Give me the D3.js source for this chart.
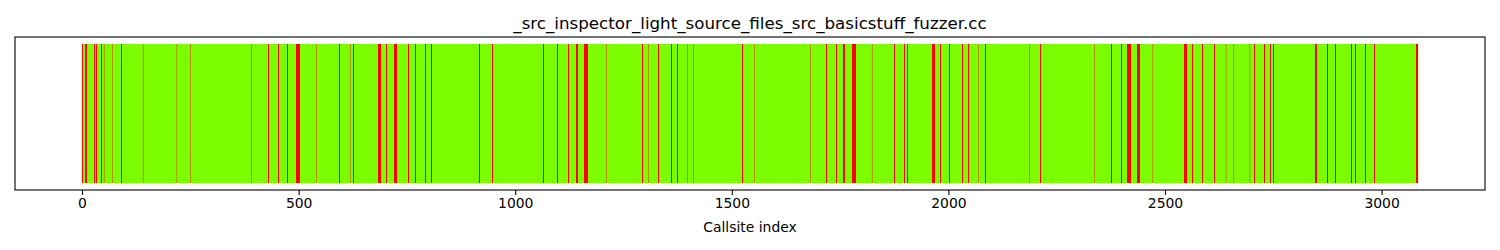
<!DOCTYPE html>
<html>
<head>
<meta charset="utf-8">
<script src="https://cdn.jsdelivr.net/npm/d3@7"></script>
<style>
  body { margin: 0; background: #fff; }
  svg text { font-family: "DejaVu Sans", sans-serif; fill: #000; }
</style>
</head>
<body>
<div id="chart"></div>
<script>
var title = '_src_inspector_light_source_files_src_basicstuff_fuzzer.cc';
var x_label = 'Callsite index';
var n_callsites = 3085;
var x_ticks = [0, 500, 1000, 1500, 2000, 2500, 3000];

// callsite index ranges (inclusive) drawn in red, the rest is green
var red_ranges = [
    [0, 1], [8, 12], [28, 29], [32, 33], [44, 45], [51, 51], [70, 70], [90, 91],
    [141, 141], [219, 219], [250, 250], [391, 391], [429, 430], [452, 453], [473, 476],
    [494, 502], [541, 541], [593, 594], [619, 619], [625, 626], [683, 689], [702, 703],
    [720, 726], [752, 753], [768, 769], [792, 793], [805, 806], [916, 917], [946, 947],
    [1064, 1065], [1098, 1099], [1122, 1123], [1140, 1145], [1160, 1168], [1210, 1210],
    [1293, 1294], [1308, 1308], [1329, 1332], [1359, 1360], [1373, 1374], [1398, 1398],
    [1412, 1412], [1525, 1526], [1553, 1553], [1681, 1681], [1717, 1718], [1740, 1741],
    [1758, 1761], [1777, 1786], [1824, 1824], [1874, 1875], [1899, 1900], [1906, 1907],
    [1963, 1969], [1982, 1983], [2003, 2004], [2033, 2034], [2045, 2046], [2070, 2070],
    [2086, 2087], [2188, 2188], [2213, 2214], [2338, 2338], [2375, 2376], [2398, 2399],
    [2413, 2420], [2436, 2442], [2472, 2472], [2545, 2551], [2564, 2565], [2585, 2586],
    [2614, 2615], [2641, 2641], [2659, 2659], [2696, 2696], [2705, 2708], [2730, 2731],
    [2744, 2745], [2751, 2752], [2846, 2850], [2875, 2876], [2894, 2895], [2931, 2932],
    [2938, 2941], [2963, 2964], [2984, 2985], [3081, 3084]
];

var color_hit = '#7CFC00';
var color_miss = '#FF0000';

var width = 1500, height = 250;
var margin = {top: 37, right: 15, bottom: 60, left: 15};

// per callsite state, then merged into runs of equal colour
var callsite_state = d3.range(n_callsites).map(function() { return 0; });
red_ranges.forEach(function(r) {
    for (var i = r[0]; i <= r[1]; i++) callsite_state[i] = 1;
});
var runs = [];
callsite_state.forEach(function(s, i) {
    var last = runs[runs.length - 1];
    if (last && last.s === s) last.end = i;
    else runs.push({s: s, start: i, end: i});
});

var svg = d3.select('#chart')
    .append('svg')
        .attr('width', width)
        .attr('height', height);

var pad = n_callsites * 0.05;
var x_scale = d3.scaleLinear()
    .domain([-0.5 - pad, n_callsites - 0.5 + pad])
    .range([margin.left, width - margin.right]);

var y_scale = d3.scaleLinear()
    .domain([-0.05, 1.05])
    .range([height - margin.bottom, margin.top]);

// runs wider than one callsite get snapped to whole pixels (like the original)
function run_x(d) {
    var x0 = x_scale(d.start - 0.5);
    return d.end > d.start ? Math.round(x0) : x0;
}
function run_w(d) {
    var x0 = x_scale(d.start - 0.5), x1 = x_scale(d.end + 0.5);
    if (d.end === d.start) return x1 - x0;
    return Math.max(1, Math.round(x1) - Math.round(x0));
}

// green underneath as one block, red runs on top
svg.append('rect')
    .attr('x', x_scale(-0.5))
    .attr('y', y_scale(1))
    .attr('width', x_scale(n_callsites - 0.5) - x_scale(-0.5))
    .attr('height', y_scale(0) - y_scale(1))
    .attr('fill', color_hit);

svg.append('g')
    .selectAll('rect')
    .data(runs.filter(function(d) { return d.s === 1; }))
    .enter()
    .append('rect')
        .attr('x', run_x)
        .attr('y', y_scale(1))
        .attr('width', run_w)
        .attr('height', y_scale(0) - y_scale(1))
        .attr('fill', color_miss);

// frame
svg.append('rect')
    .attr('x', margin.left)
    .attr('y', margin.top)
    .attr('width', width - margin.left - margin.right)
    .attr('height', height - margin.top - margin.bottom)
    .attr('fill', 'none')
    .attr('stroke', '#000')
    .attr('stroke-width', 1.1);

var x_axis = d3.axisBottom(x_scale)
    .tickValues(x_ticks)
    .tickSize(4.9)
    .tickPadding(3.5)
    .tickFormat(d3.format('d'));

var gx = svg.append('g')
    .attr('transform', 'translate(0,' + (height - margin.bottom) + ')')
    .call(x_axis);
gx.select('.domain').remove();
gx.selectAll('line').attr('stroke', '#000').attr('stroke-width', 1.1);
gx.selectAll('text')
    .style('font-size', '13.9px');

svg.append('text')
    .attr('x', x_scale.range()[0] + (x_scale.range()[1] - x_scale.range()[0]) / 2)
    .attr('y', 232)
    .attr('text-anchor', 'middle')
    .style('font-size', '13.9px')
    .text(x_label);

svg.append('text')
    .attr('x', width / 2)
    .attr('y', 29)
    .attr('text-anchor', 'middle')
    .style('font-size', '16.7px')
    .text(title);
</script>
</body>
</html>
